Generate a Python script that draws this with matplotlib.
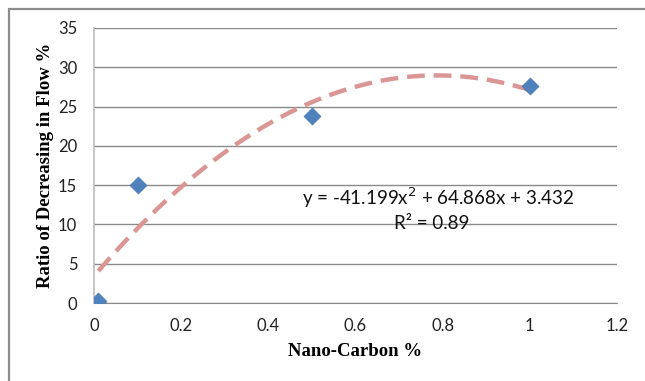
import numpy as np
import matplotlib
matplotlib.use("Agg")
import matplotlib.pyplot as plt
from matplotlib.patches import Rectangle

# Data
nano_carbon = [0.01, 0.1, 0.5, 1.0]
ratio_decrease = [0.2, 15.0, 23.8, 27.6]
trend_coeffs = [-41.199, 64.868, 3.432]  # quadratic trendline coefficients
x_ticks = [0, 0.2, 0.4, 0.6, 0.8, 1, 1.2]
x_tick_labels = ["0", "0.2", "0.4", "0.6", "0.8", "1", "1.2"]
y_ticks = [0, 5, 10, 15, 20, 25, 30, 35]

fig = plt.figure(figsize=(6.45, 3.81), dpi=100)
ax = fig.add_axes([94/645, 1-303/381, (617-94)/645, (303-28)/381])

# outer border (cropped on right & bottom)
fig.patches.append(Rectangle((9/645, -0.05), 1.2, 1-9/381+0.05, transform=fig.transFigure,
                             fill=False, edgecolor="#8c8c8c", linewidth=1.6))

xs = np.linspace(min(nano_carbon), max(nano_carbon), 200)
ys = np.polyval(trend_coeffs, xs)
ax.plot(xs, ys, linestyle=(0, (4, 2)), color="#D99694", linewidth=3.2, zorder=3)
ax.scatter(nano_carbon, ratio_decrease, marker="D", s=75, color="#4F81BD",
           edgecolors="#4A7AB5", linewidths=0.5, zorder=4)

ax.set_xlim(0, 1.2)
ax.set_ylim(0, 35)
ax.set_xticks(x_ticks)
ax.set_xticklabels(x_tick_labels)
ax.set_yticks(y_ticks)
ax.grid(axis="y", color="#8a8a8a", linewidth=1.0)
ax.set_axisbelow(True)
for s in ["top", "right"]:
    ax.spines[s].set_visible(False)
ax.spines["bottom"].set_color("#8a8a8a")
ax.spines["left"].set_color("#bdbdbd")
ax.spines["left"].set_linewidth(1.2)
ax.tick_params(length=0, labelsize=12, colors="#222222")
ax.tick_params(axis="x", pad=11)
ax.tick_params(axis="y", pad=12)
for lab in ax.get_xticklabels() + ax.get_yticklabels():
    lab.set_family("Lato")

ax.set_xlabel("Nano-Carbon %", family="Liberation Serif", fontweight="bold", fontsize=13.5, labelpad=6)
ax.set_ylabel("Ratio of Decreasing in Flow %", family="Liberation Serif", fontweight="bold", fontsize=13.5, labelpad=3)

ax.text(0.658, 0.382, "y = -41.199x$^2$ + 64.868x + 3.432", transform=ax.transAxes,
        family="Lato", fontsize=13.5, ha="center", va="center", color="#111111")
ax.text(0.645, 0.29, "R² = 0.89", transform=ax.transAxes,
        family="Lato", fontsize=13.5, ha="center", va="center", color="#111111")

fig.savefig("out.png", dpi=100)
